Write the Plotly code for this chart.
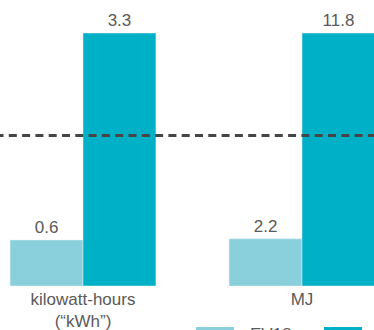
"""Energy use per unit, EV18 vs comparison, shown as bars scaled within each unit."""

import plotly.graph_objects as go

# data
units = ["kilowatt-hours<br>(“kWh”)", "MJ"]
series_names = ["EV18", "ICE"]
ev_values = [0.6, 2.2]
other_values = [3.3, 11.8]
reference_share = 0.595

LIGHT = "#89D0DC"
DARK = "#00B0C7"
TEXT = "#5a5a5a"
FONT = "Liberation Sans"
SIZE = 17

# each unit gets its own scale: heights relative to the larger bar
scale = [max(a, b) for a, b in zip(ev_values, other_values)]
ev_share = [v / s for v, s in zip(ev_values, scale)]
other_share = [v / s for v, s in zip(other_values, scale)]

fig = go.Figure()
fig.add_trace(go.Bar(
    x=units, y=ev_share, name=series_names[0],
    marker_color=LIGHT, text=[f"{v:.1f}" for v in ev_values],
    textposition="outside", cliponaxis=False,
    textfont=dict(size=SIZE, color=TEXT, family=FONT),
))
fig.add_trace(go.Bar(
    x=units, y=other_share, name=series_names[1],
    marker_color=DARK, text=[f"{v:.1f}" for v in other_values],
    textposition="outside", cliponaxis=False,
    textfont=dict(size=SIZE, color=TEXT, family=FONT),
))

W, top, bottom = 374, 33, 286
h = bottom - top

# dashed reference line, started a little left of the edge to match dash phase
fig.add_shape(type="line", xref="paper", yref="y",
              x0=-4.5 / W, x1=1, y0=reference_share, y1=reference_share,
              line=dict(color="#454545", width=3, dash="8px,5.3px"),
              layer="above")

# legend drawn by hand so the swatches are wide
swatches = [(196, 234, LIGHT, series_names[0]), (324, 362, DARK, series_names[1])]
for x0, x1, col, name in swatches:
    fig.add_shape(type="rect", xref="paper", yref="paper",
                  x0=x0 / W, x1=x1 / W,
                  y0=(bottom - 327) / h, y1=(bottom - 341) / h,
                  fillcolor=col, line_width=0)
    fig.add_annotation(xref="paper", yref="paper", x=(x1 + 14) / W,
                       y=(bottom - 323) / h, xanchor="left", yanchor="top",
                       text=name, showarrow=False,
                       font=dict(size=SIZE, color=TEXT, family=FONT))

fig.update_layout(
    width=374, height=330,
    margin=dict(l=0, r=0, t=top, b=330 - bottom, pad=0, autoexpand=False),
    barmode="group", bargap=0.334, bargroupgap=0,
    showlegend=False,
    plot_bgcolor="white", paper_bgcolor="white",
    font=dict(family=FONT, size=SIZE, color=TEXT),
    xaxis=dict(range=[-83 / 219, (374 - 83) / 219], showgrid=False,
               showline=False, zeroline=False, ticks="",
               automargin=False, ticklabelstandoff=1,
               tickfont=dict(size=SIZE, color=TEXT, family=FONT)),
    yaxis=dict(range=[0, 1], visible=False, automargin=False),
)

fig.write_html(
    "out.html",
    config={"displayModeBar": False},
    post_script="document.body.style.margin='0';"
                "document.documentElement.style.overflow='hidden';",
)
